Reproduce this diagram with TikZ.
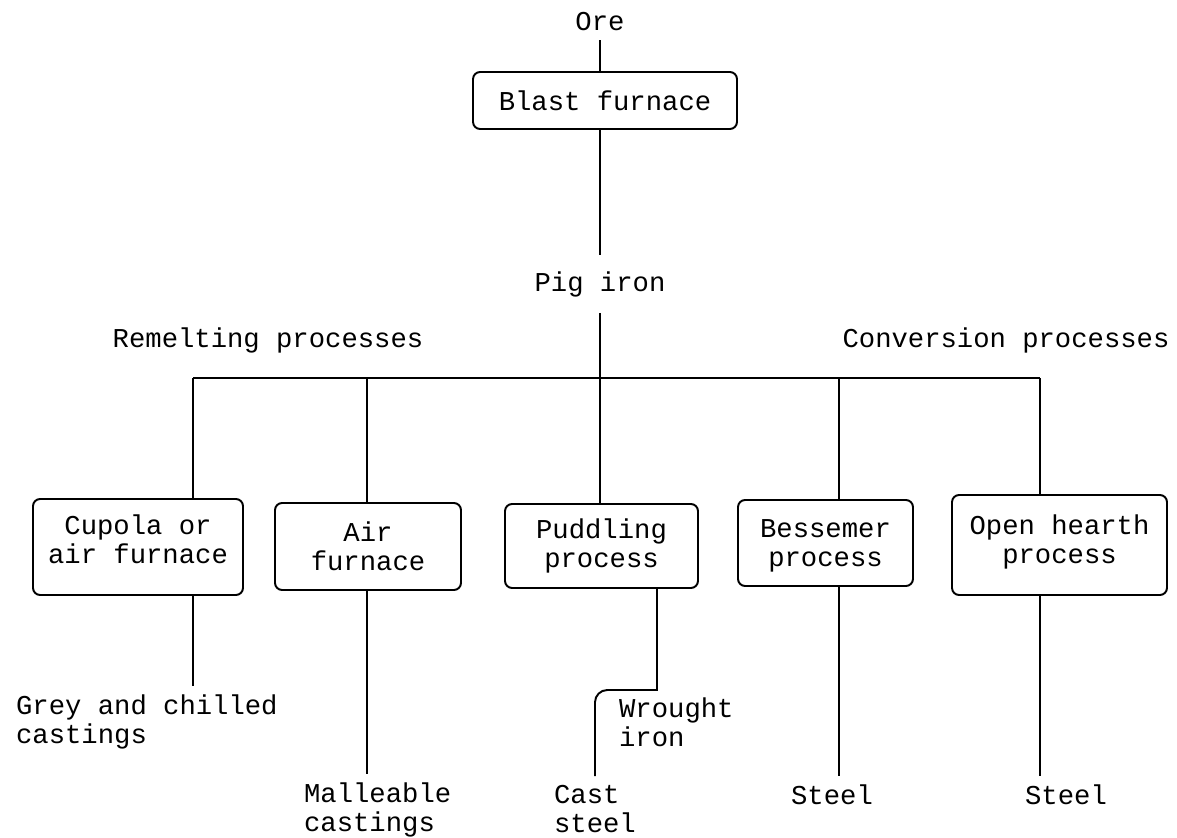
\documentclass[tikz,border=0pt]{standalone}
\usepackage{fontspec}
\setmainfont{Liberation Mono}
\begin{document}
\begin{tikzpicture}[x=0.02cm,y=-0.02cm,
    every node/.style={font=\fontsize{15.5}{16.4}\selectfont},
    box/.style={draw,line width=1.1pt,rounded corners=4pt,align=center,inner sep=0pt},
    lbl/.style={inner sep=5pt},
    link/.style={line width=1.1pt}]
  \useasboundingbox (0,0) rectangle (1177,838);
  % top
  \node[lbl] (ore) at (600,22) {Ore};
  \node[box,minimum width=5.28cm,minimum height=1.14cm] (blast) at (605,100.5) {Blast furnace};
  \node[lbl,inner ysep=9pt] (pig) at (600,284) {Pig iron};
  \draw[link] (ore.south) -- (ore.south |- blast.north);
  \draw[link] (pig.north |- blast.south) -- (pig.north);
  % headings
  \node (remelt) at (268,340) {Remelting processes};
  \node (convert) at (1006,340) {Conversion processes};
  % bus
  \coordinate (jcup) at (193,378);
  \coordinate (jair) at (367,378);
  \coordinate (jpud) at (600,378);
  \coordinate (jbes) at (839,378);
  \coordinate (jope) at (1040,378);
  \draw[link] (jcup) -- (jope);
  \draw[link] (pig.south) -- (jpud);
  % processes
  \node[box,minimum width=4.2cm,minimum height=1.92cm,text depth=9pt] (cupola) at (138,547) {Cupola or\\air furnace};
  \node[box,minimum width=3.72cm,minimum height=1.74cm] (airf) at (368,546.5) {Air\\furnace};
  \node[box,minimum width=3.86cm,minimum height=1.68cm] (pudd) at (601.5,546) {Puddling\\process};
  \node[box,minimum width=3.5cm,minimum height=1.72cm,text depth=0pt] (bess) at (825.5,543) {Bessemer\\process};
  \node[box,minimum width=4.3cm,minimum height=2cm,text depth=7pt] (openh) at (1059.5,545) {Open hearth\\process};
  \foreach \j/\b in {jcup/cupola,jair/airf,jpud/pudd,jbes/bess,jope/openh}
    \draw[link] (\j) -- (\j |- \b.north);
  % products
  \node[lbl,anchor=west,align=left] (grey) at (7,722) {Grey and chilled\\castings};
  \node[lbl,anchor=west,align=left] (mall) at (295,810) {Malleable\\castings};
  \node[lbl,anchor=west,align=left] (wrought) at (610,722) {Wrought\\iron};
  \node[lbl,anchor=west,align=left] (cast) at (545,809) {Cast\\steel};
  \node[lbl] (steela) at (832,795) {Steel};
  \node[lbl] (steelb) at (1066,795) {Steel};
  \coordinate (wout) at (657,690);
  \draw[link] (jcup |- cupola.south) -- (jcup |- grey.north);
  \draw[link] (jair |- airf.south) -- (jair |- mall.north);
  \draw[link] (wout |- pudd.south) -- (wout) [rounded corners=7pt] -- (cast.north |- wout) -- (cast.north);
  \draw[link] (jbes |- bess.south) -- (jbes |- steela.north);
  \draw[link] (jope |- openh.south) -- (jope |- steelb.north);
\end{tikzpicture}
\end{document}
